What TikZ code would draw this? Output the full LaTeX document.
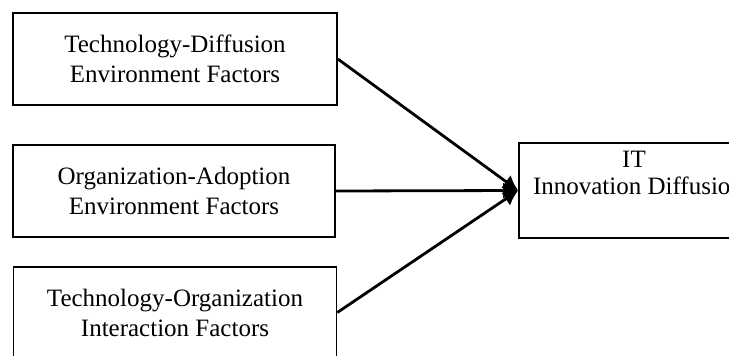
\documentclass[tikz,border=0pt]{standalone}
\usepackage{fontspec}
\setmainfont{Liberation Serif}
\usetikzlibrary{arrows.meta}
\begin{document}
\begin{tikzpicture}[x=1pt,y=-1pt,
  factorbox/.style={draw=black, line width=1.6pt, rectangle, inner sep=0pt,
    align=center, font=\fontsize{25}{30}\selectfont},
  label/.style={inner sep=0pt, font=\fontsize{25}{30}\selectfont},
  link/.style={line width=2.8pt, -{Latex[length=15pt,width=16pt]}}]
  \useasboundingbox (0,0) rectangle (729,356);
  \clip (0,0) rectangle (729,356);
  % three factor groups on the left
  \node[factorbox, minimum width=324pt, minimum height=92pt] (tech) at (175,59)
    {Technology-Diffusion\\Environment Factors};
  \node[factorbox, minimum width=322pt, minimum height=92pt] (org) at (174,191)
    {Organization-Adoption\\Environment Factors};
  \node[factorbox, minimum width=323pt, minimum height=91pt] (inter) at (175,312.5)
    {Technology-Organization\\Interaction Factors};
  % outcome box, running past the right edge
  \node[factorbox, minimum width=240pt, minimum height=95pt] (it) at (639,190.5) {};
  \node[label, anchor=base] (itline1) at (634,167) {IT};
  \node[label, anchor=base] (itline2) at (638,194) {Innovation Diffusion};
  % connectors into the outcome box
  \draw[link] (tech.east) -- (it.west);
  \draw[link] (org.east) -- (it.west);
  \draw[link] (inter.east) -- (it.west);
\end{tikzpicture}
\end{document}
